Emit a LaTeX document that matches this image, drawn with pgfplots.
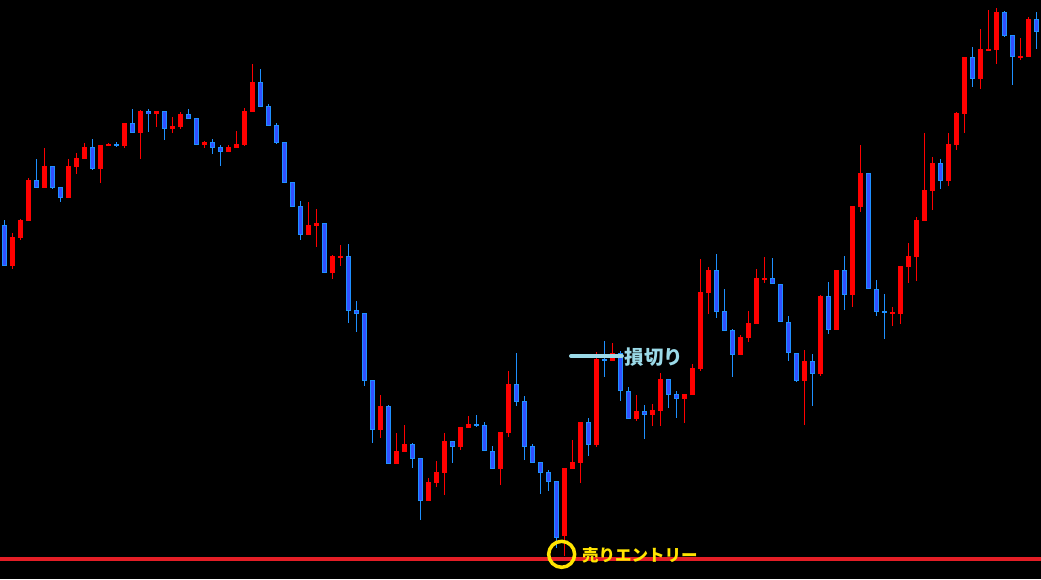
\documentclass[border=0pt]{standalone}
\usepackage{pgfplots}
\usepackage{pgfplotstable}
\usepackage{fontspec}
\pgfplotsset{compat=1.18}
\newfontfamily\jp{Noto Sans CJK JP}
\definecolor{bullred}{RGB}{255,0,0}
\definecolor{bearwick}{RGB}{30,144,255}
\definecolor{bearfill}{RGB}{50,80,255}
\definecolor{entryred}{RGB}{228,30,38}
\definecolor{stopblue}{RGB}{155,218,232}
\definecolor{entryyellow}{RGB}{255,228,0}

% pixel-y price scale (smaller = higher); columns: index, open, high, low, close
\pgfplotstableread{
i o h l c
1 266 233 269 237
2 238 219 240 220
3 221 178 221 180
5 188 148 188 166
8 198 159 198 166
9 167 153 174 158
10 159 143 159 147
12 169 145 183 145
13 145.7 143 146 143.7
15 146 123 148 123
17 133 110 159 111
19 114 111 127 111
21 129 117 133 126
22 127 112 129 114
25 145 141 148 142
28 152 145 152 147
29 148 131 148 144
30 145 108 146 111
31 112 64 112 82
38 235 202 235 225
39 226 209 247 223
41 273 255 279 256
42 257 245 266 256
47 430 395 438 406
49 464 433 464 451
50 452 425 452 444
53 501 478 501 482
54 483 461 487 472
55 473 433 495 441
57 447 427 450 427
58 428 416 428 424
62 469 432 485 432
63 433 371 437 384
70 536 468 556 468
71 469 440 469 462
72 463 422 483 422
74 445 352 447 359
76 361 343 361 353
79 419 395 421 411
81 415 404 426 410
82 411 373 426 379
85 399 394 423 394
86 395 364 395 368
87 369 259 371 292
88 293 267 314 270
92 355 335 355 337
93 338 311 342 323
94 324 269 324 278
95 279 257 283 278
100 381 350 425 361
102 374 295 376 296
104 330 270 330 270
106 295 206 307 206
107 207 145 212 173
111 313 307 326 312
112 314 266 324 266
113 267 243 283 256
114 257 217 281 220
115 221 133 221 190
116 191 157 210 163
118 181 133 186 144
119 145 112 150 113
120 114 57 133 57
122 79 29 89 49
123 50 10 50 49
124 50 8 64 12
127 57 38 60 56
128 57 17 57 19
}\bull

\pgfplotstableread{
i o h l c
0 225 220 266 266
4 180 159 188 188
6 166 166 189 188
7 187 187 202 198
11 147 139 170 169
14 144 142 147 146
16 123 109 133 133
18 111 109 132 114
20 111 111 140 129
23 114 109 119 119
24 118 118 145 145
26 142 139 154 148
27 147 145 166 152
32 82 69 107 107
33 106 104 126 126
34 125 123 144 143
35 142 142 183 183
36 182 182 207 207
37 206 201 240 235
40 223 223 273 273
43 256 244 323 311
44 310 301 332 314
45 313 313 386 381
46 380 380 443 430
48 406 405 464 464
51 444 443 468 459
52 458 458 520 501
56 441 441 463 447
59 424 415 427 426
60 425 422 451 451
61 451 446 469 469
64 384 353 406 402
65 401 396 460 447
66 446 444 463 463
67 462 462 494 473
68 472 470 491 482
69 481 481 548 538
73 422 418 456 445
75 359 341 377 361
77 353 351 401 391
78 391 387 419 419
80 411 405 439 415
83 379 379 408 395
84 394 391 418 399
89 270 254 318 312
90 311 289 331 331
91 330 329 377 355
96 278 258 284 284
97 284 284 322 322
98 322 316 361 353
99 353 353 382 381
101 361 354 406 374
103 296 282 334 330
105 270 256 310 295
108 173 173 289 289
109 289 280 316 312
110 311 294 339 313
117 163 159 189 181
121 57 47 87 79
125 12 11 37 36
126 35 35 85 57
129 19 12 49 32
}\bear

\begin{document}
\begin{tikzpicture}
\begin{axis}[
  width=1041pt, height=579pt, scale only axis,
  xmin=-0.5375, xmax=129.5875,
  ymin=0, ymax=579, y dir=reverse,
  axis line style={draw=none}, ticks=none,
  axis background/.style={fill=black},
]
% wicks
\addplot[draw=none, mark=none, forget plot,
  error bars/.cd, y dir=both, y explicit, error mark=none,
  error bar style={line width=1pt, draw=bullred}]
  table[x=i, y expr=(\thisrow{h}+\thisrow{l})/2, y error expr=(\thisrow{l}-\thisrow{h})/2]{\bull};
\addplot[draw=none, mark=none, forget plot,
  error bars/.cd, y dir=both, y explicit, error mark=none,
  error bar style={line width=1pt, draw=bearwick}]
  table[x=i, y expr=(\thisrow{h}+\thisrow{l})/2, y error expr=(\thisrow{l}-\thisrow{h})/2]{\bear};
% bodies
\addplot[draw=none, mark=none, forget plot,
  error bars/.cd, y dir=both, y explicit, error mark=none,
  error bar style={line width=5pt, draw=bullred}]
  table[x=i, y expr=(\thisrow{o}+\thisrow{c})/2, y error expr={max(abs(\thisrow{o}-\thisrow{c})/2,0.7)}]{\bull};
\addplot[draw=none, mark=none, forget plot,
  error bars/.cd, y dir=both, y explicit, error mark=none,
  error bar style={line width=5pt, draw=bearwick}]
  table[x=i, y expr=(\thisrow{o}+\thisrow{c})/2, y error expr={max(abs(\thisrow{o}-\thisrow{c})/2,0.7)}]{\bear};
\addplot[draw=none, mark=none, forget plot,
  error bars/.cd, y dir=both, y explicit, error mark=none,
  error bar style={line width=3pt, draw=bearfill}]
  table[x=i, y expr=(\thisrow{o}+\thisrow{c})/2, y error expr={max(abs(\thisrow{o}-\thisrow{c})/2-1,0)}]{\bear};
% entry level line
\addplot[entryred, line width=4pt, forget plot] coordinates {(-0.5375,559) (129.5875,559)};
% stop-loss marker line
\addplot[stopblue, line width=4pt, line cap=round, forget plot] coordinates {(70.84,356) (77.2,356)};
% entry circle
\addplot[only marks, mark=o, mark size=13pt, mark options={line width=3.5pt, draw=entryyellow}, forget plot]
  coordinates {(69.67,554.3)};
\node[anchor=base west, inner sep=0pt, text=stopblue, font=\jp\bfseries\fontsize{19.5}{20}\selectfont]
  at (axis cs:77.55,364.5) {損切り};
\node[anchor=base west, inner sep=0pt, text=entryyellow, font=\jp\bfseries\fontsize{16.5}{17}\selectfont]
  at (axis cs:72.2,561.8) {売りエントリー};
\end{axis}
\end{tikzpicture}
\end{document}
